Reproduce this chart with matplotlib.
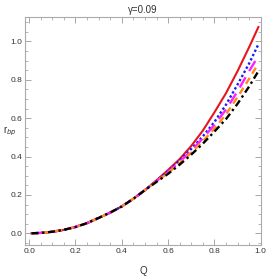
import numpy as np
import matplotlib
matplotlib.use("Agg")
import matplotlib.pyplot as plt
from matplotlib.ticker import MultipleLocator

# values
Q = [0.01, 0.05, 0.10, 0.15, 0.20, 0.25, 0.30, 0.35, 0.40, 0.45, 0.50,
     0.55, 0.60, 0.65, 0.70, 0.75, 0.80, 0.85, 0.90, 0.95, 0.99]
common = [0.0, 0.002, 0.008, 0.018, 0.033, 0.053, 0.080, 0.108, 0.140, 0.180, 0.225]
r_red = common + [0.276, 0.330, 0.387, 0.455, 0.535, 0.630, 0.730, 0.845, 0.970, 1.075]
r_blue = common + [0.274, 0.325, 0.380, 0.440, 0.505, 0.580, 0.670, 0.775, 0.885, 0.985]
r_magenta = common + [0.272, 0.320, 0.372, 0.430, 0.495, 0.565, 0.645, 0.740, 0.845, 0.925]
r_orange = common + [0.270, 0.315, 0.366, 0.420, 0.480, 0.545, 0.620, 0.710, 0.805, 0.885]
r_black = common + [0.268, 0.310, 0.358, 0.410, 0.467, 0.530, 0.595, 0.675, 0.765, 0.845]

plt.rcParams['font.family'] = ['Liberation Sans', 'DejaVu Sans']

fig = plt.figure(figsize=(2.66, 2.80), dpi=100)
ax = fig.add_axes([0.094, 0.125, 0.886, 0.814])

ax.plot(Q, r_red, color='#e8161b', lw=1.5, ls='-')
ax.plot(Q, r_blue, color='#1a1aff', lw=1.7, ls=(0, (1, 1)))
ax.plot(Q, r_magenta, color='#ff1fff', lw=1.7, ls=(0, (5, 3)))
ax.plot(Q, r_orange, color='#ff8c1a', lw=1.7, ls=(0, (3, 2)))
ax.plot(Q, r_black, color='black', lw=1.7, ls=(0, (3, 1.5, 1, 1.5)))

ax.set_xlim(-0.018, 1.0)
ax.set_ylim(-0.061, 1.127)
ax.xaxis.set_major_locator(MultipleLocator(0.2))
ax.xaxis.set_minor_locator(MultipleLocator(0.05))
ax.yaxis.set_major_locator(MultipleLocator(0.2))
ax.yaxis.set_minor_locator(MultipleLocator(0.05))
ax.tick_params(which='both', direction='in', top=True, right=True,
               labelsize=6, colors='#999999', labelcolor='#333333', pad=2)
ax.tick_params(which='major', length=4, width=0.6)
ax.tick_params(which='minor', length=2, width=0.5)
for s in ax.spines.values():
    s.set_color('#aaaaaa')
    s.set_linewidth(0.8)

ax.set_title('γ=0.09', fontsize=7, color='#333333', pad=3)
ax.set_xlabel('Q', fontsize=7, color='#333333', labelpad=8)
ax.set_ylabel('r$_{bp}$', fontsize=7, color='#333333', rotation=0, labelpad=6)
ax.yaxis.set_label_coords(-0.065, 0.47)

fig.savefig('out.png', dpi=100)
